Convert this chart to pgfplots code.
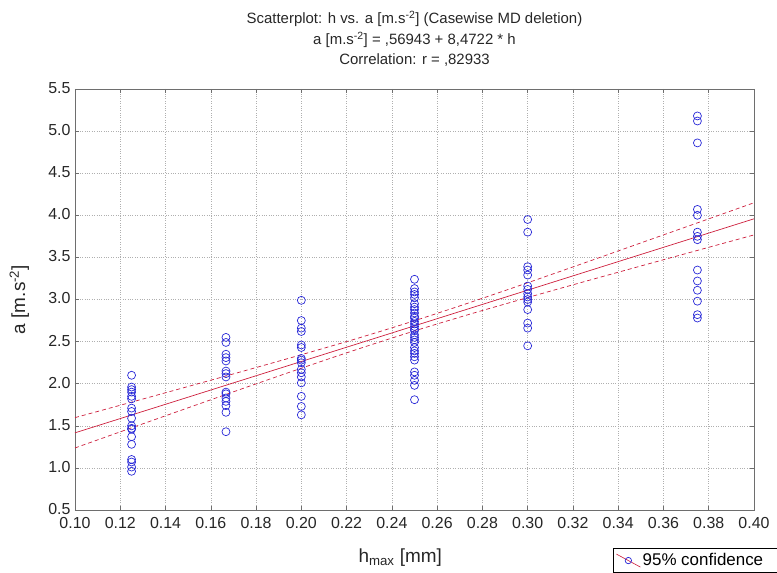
\documentclass[border=0pt]{standalone}
\usepackage{pgfplots}
\pgfplotsset{compat=1.18}
\usepackage{fontspec}
\setmainfont{Liberation Sans}
\definecolor{ptblue}{RGB}{40,40,215}
\definecolor{fitred}{RGB}{205,30,60}
\definecolor{gridgray}{RGB}{175,175,175}
\definecolor{axgray}{RGB}{110,110,110}
\begin{document}
\begin{tikzpicture}[x=1bp,y=1bp]
\begin{axis}[
  at={(0,0)}, anchor=south west,
  scale only axis, width=679bp, height=421bp,
  xmin=0.10, xmax=0.40, ymin=0.5, ymax=5.5,
  xtick={0.10,0.12,...,0.401}, ytick={0.5,1.0,...,5.51},
  xticklabel style={yshift=-4bp, /pgf/number format/fixed, /pgf/number format/fixed zerofill, /pgf/number format/precision=2},
  yticklabel style={xshift=-1bp, yshift=1bp, /pgf/number format/fixed, /pgf/number format/fixed zerofill, /pgf/number format/precision=1},
  /pgf/number format/assume math mode=true,
  tick label style={font=\fontsize{16}{18}\selectfont, text=black!85},
  grid=major,
  major grid style={gridgray, dotted, line width=0.6pt},
  axis line style={axgray, line width=0.8pt},
  tick style={axgray, line width=0.6pt},
  tick align=inside, major tick length=4bp,
  xlabel={h\textsubscript{max} [mm]},
  ylabel={a [m.s\textsuperscript{-2}]},
  label style={font=\fontsize{19}{22}\selectfont, text=black!85},
  xlabel style={at={(axis description cs:0.479,-0.114)}, anchor=center},
  ylabel style={at={(axis description cs:-0.082,0.5)}, anchor=center},
  legend style={at={(axis description cs:0.792,-0.090)}, anchor=north west,
    draw=black, line width=0.6pt, font=\fontsize{17}{19}\selectfont,
    inner xsep=3bp, inner ysep=3bp},
  legend cell align=left,
  clip=false,
]
\addlegendimage{legend image code/.code={
  \draw[fitred, line width=0.6pt] (0bp,6bp) -- (24bp,-7bp);
  \draw[ptblue, line width=0.7pt] (12bp,-0.5bp) circle (3.2bp);}}
\addlegendentry{\makebox[140bp][l]{95\% confidence}}
% data points
\addplot[only marks, mark=o, mark size=4bp, ptblue, line width=0.7pt, forget plot] coordinates {
(0.125,2.10)(0.125,1.96)(0.125,1.93)(0.125,1.90)(0.125,1.85)(0.125,1.82)(0.125,1.71)(0.125,1.67)(0.125,1.59)
(0.125,1.50)(0.125,1.47)(0.125,1.46)(0.125,1.37)(0.125,1.28)(0.125,1.10)(0.125,1.07)(0.125,1.01)(0.125,0.96)
(0.1667,2.55)(0.1667,2.49)(0.1667,2.35)(0.1667,2.31)(0.1667,2.27)(0.1667,2.15)(0.1667,2.12)(0.1667,2.08)
(0.1667,1.90)(0.1667,1.88)(0.1667,1.83)(0.1667,1.79)(0.1667,1.74)(0.1667,1.66)(0.1667,1.43)
(0.20,2.99)(0.20,2.75)(0.20,2.66)(0.20,2.62)(0.20,2.46)(0.20,2.43)(0.20,2.30)(0.20,2.28)
(0.20,2.25)(0.20,2.17)(0.20,2.13)(0.20,2.08)(0.20,2.01)(0.20,1.85)(0.20,1.73)(0.20,1.63)
(0.25,3.24)(0.25,3.13)(0.25,3.09)(0.25,3.06)(0.25,3.02)(0.25,2.95)(0.25,2.91)(0.25,2.88)(0.25,2.84)(0.25,2.80)
(0.25,2.78)(0.25,2.74)(0.25,2.71)(0.25,2.68)(0.25,2.65)(0.25,2.63)(0.25,2.58)(0.25,2.55)(0.25,2.52)(0.25,2.49)
(0.25,2.43)(0.25,2.39)(0.25,2.36)(0.25,2.32)(0.25,2.28)(0.25,2.14)(0.25,2.10)(0.25,2.04)(0.25,1.98)(0.25,1.81)
(0.30,3.95)(0.30,3.80)(0.30,3.39)(0.30,3.35)(0.30,3.29)(0.30,3.16)(0.30,3.12)(0.30,3.07)
(0.30,3.03)(0.30,3.00)(0.30,2.97)(0.30,2.88)(0.30,2.72)(0.30,2.66)(0.30,2.45)
(0.375,5.18)(0.375,5.12)(0.375,4.86)(0.375,4.07)(0.375,4.00)(0.375,3.80)(0.375,3.75)
(0.375,3.71)(0.375,3.35)(0.375,3.22)(0.375,3.11)(0.375,2.98)(0.375,2.82)(0.375,2.78)
};
% fitted line
\addplot[fitred, line width=0.7pt, forget plot] coordinates {(0.10,1.4166)(0.40,3.9583)};
% confidence bands
\addplot[fitred, dash pattern=on 4bp off 3bp, line width=0.7pt, smooth, forget plot] coordinates {
(0.10,1.597)(0.125,1.781)(0.15,1.967)(0.175,2.154)(0.20,2.344)(0.225,2.540)(0.25,2.748)
(0.275,2.969)(0.30,3.199)(0.325,3.434)(0.35,3.672)(0.375,3.910)(0.40,4.149)};
\addplot[fitred, dash pattern=on 4bp off 3bp, line width=0.7pt, smooth, forget plot] coordinates {
(0.10,1.237)(0.125,1.476)(0.15,1.714)(0.175,1.951)(0.20,2.184)(0.225,2.411)(0.25,2.627)
(0.275,2.830)(0.30,3.023)(0.325,3.212)(0.35,3.398)(0.375,3.583)(0.40,3.767)};
% titles
\node[anchor=base, font=\fontsize{15}{18}\selectfont, text=black!85] at (axis description cs:0.5,1) [yshift=65bp]
  {Scatterplot: h vs. a [m.s\textsuperscript{-2}] (Casewise MD deletion)};
\node[anchor=base, font=\fontsize{15}{18}\selectfont, text=black!85] at (axis description cs:0.5,1) [yshift=44bp]
  {a [m.s\textsuperscript{-2}] = ,56943 + 8,4722 * h};
\node[anchor=base, font=\fontsize{15}{18}\selectfont, text=black!85] at (axis description cs:0.5,1) [yshift=24bp]
  {Correlation: r = ,82933};
\end{axis}
\pgfresetboundingbox
\path (-75bp,-63bp) rectangle (702bp,510bp);
\end{tikzpicture}
\end{document}
